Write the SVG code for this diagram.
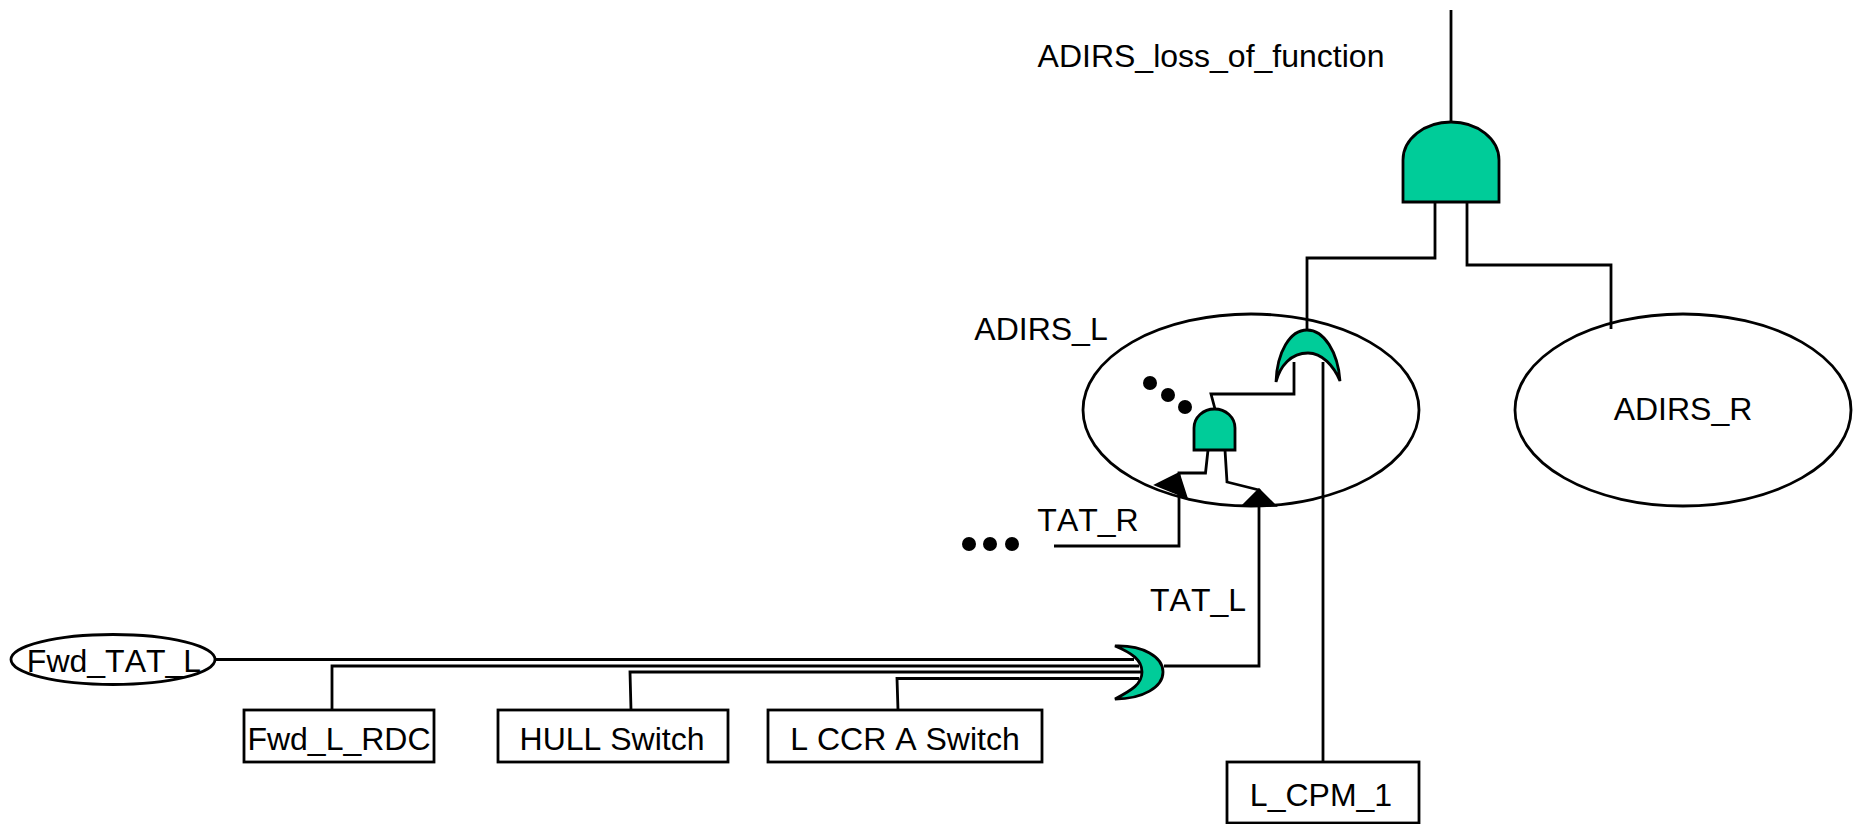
<svg xmlns="http://www.w3.org/2000/svg" width="1862" height="824" viewBox="0 0 1862 824">
<style>
text{font-family:"Liberation Sans",Arial,sans-serif;font-size:32px;fill:#000;text-anchor:middle;font-kerning:none}
.o{fill:none;stroke:#000;stroke-width:2.8}
.g{fill:#00cc99;stroke:#000;stroke-width:2.8}
.w{fill:none;stroke:#000;stroke-width:2.8}
.t{fill:#000;stroke:#000;stroke-width:1.500}
</style>
<rect width="1862" height="824" fill="#fff"/>
<g id="ADIRS_L"><ellipse class="o" cx="1251" cy="410" rx="168" ry="96"/><text x="1041" y="340">ADIRS_L</text></g>
<g id="ADIRS_R"><ellipse class="o" cx="1683" cy="410" rx="168" ry="96"/><text x="1683" y="420">ADIRS_R</text></g>
<g id="connectors">
<path class="w" d="M1451 10V122"/>
<path class="w" d="M1435 202V258H1307V330"/>
<path class="w" d="M1467 202V265H1611V329"/>
<path class="w" d="M1215 409L1211 394H1294V362"/>
<path class="w" d="M1208 450L1205.500 473H1179V546H1054"/>
<path class="w" d="M1225 450L1227 482L1259 490V666H1164"/>
<path class="w" d="M1323 362V762"/>
<path class="w" d="M215 659.500H1134"/>
<path class="w" d="M332 710V666H1139"/>
<path class="w" d="M631 710L630 672H1141"/>
<path class="w" d="M898 710L897 678.500H1139"/>
</g>
<g id="gate_top"><path class="g" d="M1403 202V160A48 38 0 0 1 1499 160V202Z"/></g>
<g id="gate_or"><path class="g" d="M1276 382C1277 352 1290 330 1307 330C1324 330 1338 352 1340 381C1334 366 1322 353 1308 353C1291 353 1280 366 1276 382Z"/></g>
<g id="gate_and"><path class="g" d="M1194 450V428A20.500 19 0 0 1 1235 428V450Z"/></g>
<g id="gate_bottom"><path class="g" d="M1115 646C1143 645 1163 657 1163 672C1163 687 1143 699 1115 699C1132 690 1142 684 1142 672C1142 660 1132 653 1115 646Z"/></g>
<g id="tri_r"><path class="t" d="M1179 473L1155 485L1187 498Z"/></g>
<g id="tri_l"><path class="t" d="M1259 489L1242 506H1276Z"/></g>
<g id="dots1"><circle cx="1150" cy="383" r="7"/><circle cx="1168" cy="395" r="7"/><circle cx="1185" cy="407" r="7"/></g>
<g id="dots2"><circle cx="969" cy="544" r="7"/><circle cx="990" cy="544" r="7"/><circle cx="1012" cy="544" r="7"/></g>
<g id="Fwd_TAT_L"><ellipse class="o" cx="113" cy="659.500" rx="102" ry="25"/><text x="114" y="672">Fwd_TAT_L</text></g>
<g id="Fwd_L_RDC"><rect class="o" x="244" y="710" width="190" height="52"/><text x="339" y="750">Fwd_L_RDC</text></g>
<g id="HULL"><rect class="o" x="498" y="710" width="230" height="52"/><text x="612" y="750">HULL Switch</text></g>
<g id="LCCR"><rect class="o" x="768" y="710" width="274" height="52"/><text x="905" y="750">L CCR A Switch</text></g>
<g id="L_CPM_1"><rect class="o" x="1227" y="762" width="192" height="61"/><text x="1321" y="806">L_CPM_1</text></g>
<text x="1211" y="67">ADIRS_loss_of_function</text>
<text x="1088" y="531">TAT_R</text>
<text x="1198" y="611">TAT_L</text>
</svg>
